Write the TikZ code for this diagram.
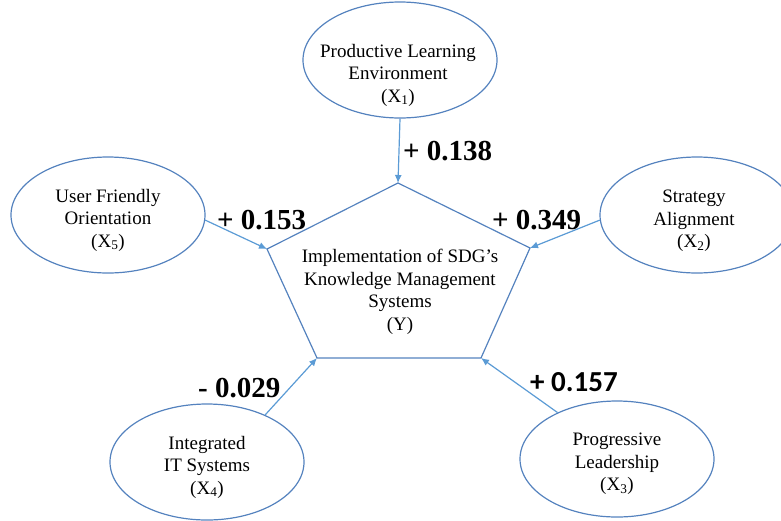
\documentclass[tikz,border=0pt]{standalone}
\usepackage{fontspec}
\setmainfont{Liberation Serif}
\newfontfamily\numfont{Liberation Serif Bold}
\newfontfamily\calfont{Carlito Bold}
\usetikzlibrary{shapes.geometric,arrows.meta}
\definecolor{shapeblue}{RGB}{84,130,190}
\definecolor{arrowblue}{RGB}{91,155,213}
\tikzset{
  factor/.style={ellipse,draw=shapeblue,line width=1.2pt,minimum width=194pt,minimum height=116pt,inner sep=0pt},
  factortext/.style={align=center,inner sep=0pt,font=\fontsize{19}{22.5}\selectfont},
  link/.style={draw=arrowblue,line width=1.2pt,-{Latex[length=8pt,width=7pt]}},
  coef/.style={font=\numfont\fontsize{29}{32}\selectfont,anchor=west,inner sep=0pt},
}
\begin{document}
\begin{tikzpicture}[x=1pt,y=-1pt]
\useasboundingbox (0,0) rectangle (781,520);
\clip (0,0) rectangle (781,520);
% pentagon vertices
\coordinate (pT) at (398,183);
\coordinate (pL) at (267,249);
\coordinate (pR) at (530,248);
\coordinate (pBL) at (317,358);
\coordinate (pBR) at (481,358);
\draw[shapeblue,line width=1.2pt,line join=miter] (pT) -- (pR) -- (pBR) -- (pBL) -- (pL) -- cycle;
\node[factortext] (y) at (400,292) {Implementation of SDG's\\Knowledge Management\\Systems\\(Y)};
% factors
\node[factor] (x1) at (400,60) {};
\node[factor] (x5) at (108,215) {};
\node[factor] (x2) at (697,215) {};
\node[factor] (x4) at (207,462) {};
\node[factor] (x3) at (617,459) {};
\node[factortext] (t1) at (398,75) {Productive Learning\\Environment\\(X\textsubscript{1})};
\node[factortext] (t5) at (108,220) {User Friendly\\Orientation\\(X\textsubscript{5})};
\node[factortext] (t2) at (694,221) {Strategy\\Alignment\\(X\textsubscript{2})};
\node[factortext] (t4) at (207,467) {Integrated\\IT Systems\\(X\textsubscript{4})};
\node[factortext] (t3) at (617,464) {Progressive\\Leadership\\(X\textsubscript{3})};
% links
\draw[link] (x1.south) -- (pT);
\draw[link] (x5.-3) -- (pL);
\draw[link] (x2.183) -- (pR);
\draw[link] (x4.39) -- (pBL);
\draw[link] (x3.142) -- (pBR);
% coefficients
\node[coef] (c1) at (403,151) {+ 0.138};
\node[coef] (c5) at (217,220) {+ 0.153};
\node[coef] (c2) at (492,220) {+ 0.349};
\node[coef] (c4) at (198,388) {- 0.029};
\node[coef,font=\calfont\fontsize{29}{32}\selectfont] (c3) at (530,382) {+ 0.157};
\end{tikzpicture}
\end{document}
